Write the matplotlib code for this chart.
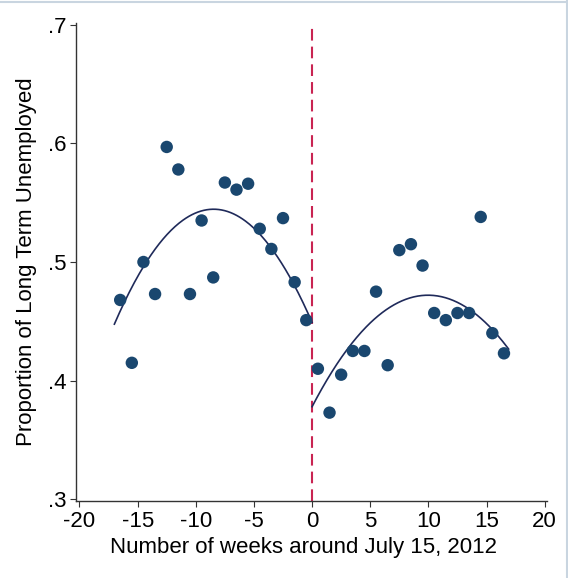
#!/usr/bin/env python3
# -*- coding: utf-8 -*-

import matplotlib
matplotlib.use("Agg")
import matplotlib.pyplot as plt
import numpy as np
from matplotlib.lines import Line2D

plt.rcParams['font.family'] = ['Liberation Sans', 'DejaVu Sans']
plt.rcParams['axes.unicode_minus'] = False

# binned means, weeks relative to July 15, 2012
weeks_before = [-16.5, -15.5, -14.5, -13.5, -12.5, -11.5, -10.5, -9.5, -8.5,
                -7.5, -6.5, -5.5, -4.5, -3.5, -2.5, -1.5, -0.5]
share_before = [0.468, 0.415, 0.500, 0.473, 0.597, 0.578, 0.473, 0.535, 0.487,
                0.567, 0.561, 0.566, 0.528, 0.511, 0.537, 0.483, 0.451]
weeks_after = [0.5, 1.5, 2.5, 3.5, 4.5, 5.5, 6.5, 7.5, 8.5,
               9.5, 10.5, 11.5, 12.5, 13.5, 14.5, 15.5, 16.5]
share_after = [0.410, 0.373, 0.405, 0.425, 0.425, 0.475, 0.413, 0.510, 0.515,
               0.497, 0.457, 0.451, 0.457, 0.457, 0.538, 0.440, 0.423]

# quadratic fit lines: start, top and end of each arc
fit_before_x = [-17.0, -8.5, 0.0]
fit_before_y = [0.4476, 0.5445, 0.449]
fit_after_x = [0.0, 9.9, 16.9]
fit_after_y = [0.378, 0.472, 0.4266]

xticks = [-20, -15, -10, -5, 0, 5, 10, 15, 20]
yticks = [0.3, 0.4, 0.5, 0.6, 0.7]
ylabels = ['.3', '.4', '.5', '.6', '.7']

dot_color = '#1a476f'
fit_color = '#1f2a5a'
cutoff_color = '#c92452'

fig = plt.figure(figsize=(5.68, 5.78), dpi=100)
ax = fig.add_axes([76 / 568, 1 - 501 / 578, 471 / 568, 478 / 578])

for fx, fy in [(fit_before_x, fit_before_y), (fit_after_x, fit_after_y)]:
    coef = np.polyfit(fx, fy, 2)
    grid = np.linspace(fx[0], fx[-1], 200)
    ax.plot(grid, np.polyval(coef, grid), color=fit_color, lw=1.2, zorder=2)

ax.scatter(weeks_before + weeks_after, share_before + share_after,
           s=80, color=dot_color, edgecolors='none', zorder=3)

ax.axvline(0, ymax=0.995, color=cutoff_color, lw=1.5, ls=(0, (5.6, 2.9)),
           zorder=1)

ax.set_xlim(-20.3, 20.2)
ax.set_ylim(0.2985, 0.7015)
ax.set_xticks(xticks)
ax.set_yticks(yticks)
ax.set_yticklabels(ylabels)
ax.tick_params(labelsize=16, length=4, width=0.8, color='#333333', pad=3)

for side in ['top', 'right']:
    ax.spines[side].set_visible(False)
for side in ['left', 'bottom']:
    ax.spines[side].set_color('#333333')
    ax.spines[side].set_linewidth(1.0)

ax.set_xlabel('Number of weeks around July 15, 2012', fontsize=16)
ax.xaxis.set_label_coords(0.483, -0.075)
ax.set_ylabel('Proportion of Long Term Unemployed', fontsize=16, labelpad=8)

# thin frame on the top and right edge of the image
fig.add_artist(Line2D([0, 1], [0.997, 0.997], transform=fig.transFigure,
                      color='#c9d5e0', lw=1.5))
fig.add_artist(Line2D([0.998, 0.998], [0, 1], transform=fig.transFigure,
                      color='#c9d5e0', lw=1.5))

fig.savefig('out.png', dpi=100)
